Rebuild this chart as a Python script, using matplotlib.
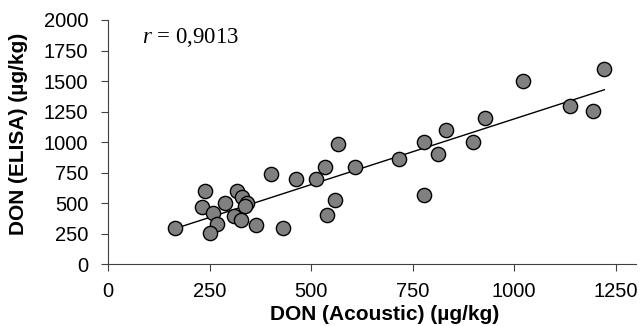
import numpy as np
import matplotlib
matplotlib.use("Agg")
import matplotlib.pyplot as plt

acoustic = [164, 239, 230, 257, 268, 251, 287, 316, 330, 341, 337, 309, 328, 364,
            401, 430, 462, 511, 534, 565, 559, 538, 608, 716, 777, 777, 813, 831,
            898, 928, 1022, 1137, 1195, 1222]
elisa = [297, 600, 469, 417, 330, 254, 502, 602, 551, 502, 477, 398, 360, 319,
         741, 300, 698, 698, 799, 982, 529, 401, 799, 859, 1001, 570, 900, 1099,
         1001, 1200, 1500, 1298, 1252, 1598]
xticks = [0, 250, 500, 750, 1000, 1250]
yticks = [0, 250, 500, 750, 1000, 1250, 1500, 1750, 2000]
r_text = "0,9013"

plt.rcParams['font.family'] = ['Liberation Sans', 'DejaVu Sans']
plt.rcParams['mathtext.fontset'] = 'custom'
plt.rcParams['mathtext.rm'] = 'Liberation Serif'
plt.rcParams['mathtext.it'] = 'Liberation Serif:italic'

fig = plt.figure(figsize=(6.4, 3.26), dpi=100)
ax = fig.add_axes([0.1692, 0.189, 0.8246, 0.7497])

x = np.array(acoustic, dtype=float)
y = np.array(elisa, dtype=float)
m, b = np.polyfit(x, y, 1)
xs = np.array([x.min(), x.max()])
ax.plot(xs, m * xs + b, color='black', lw=1.0, zorder=2)
ax.scatter(x, y, s=105, facecolor='#808080', edgecolor='black', linewidth=1.0, zorder=3)

ax.set_xlim(0, 1300)
ax.set_ylim(0, 2000)
ax.set_xticks(xticks)
ax.set_yticks(yticks)
ax.tick_params(direction='out', length=5, width=0.8, labelsize=14.5, color='#404040')
ax.tick_params(axis='y', pad=9.5)
ax.tick_params(axis='x', pad=7.7)
for s in ['top', 'right']:
    ax.spines[s].set_visible(False)
for s in ['left', 'bottom']:
    ax.spines[s].set_color('#404040')
    ax.spines[s].set_linewidth(0.8)

ax.set_xlabel('DON (Acoustic) (µg/kg)', fontsize=15, fontweight='bold')
ax.set_ylabel('DON (ELISA) (µg/kg)', fontsize=15, fontweight='bold')
ax.xaxis.set_label_coords(0.524, -0.168)
ax.yaxis.set_label_coords(-0.171, 0.535)
ax.yaxis.label.set_verticalalignment('center')

ax.text(0.063, 0.905, r'$r$ = ' + r_text, transform=ax.transAxes, fontsize=16.5,
        family='Liberation Serif', va='baseline', ha='left')

fig.savefig('out.png', dpi=100)
